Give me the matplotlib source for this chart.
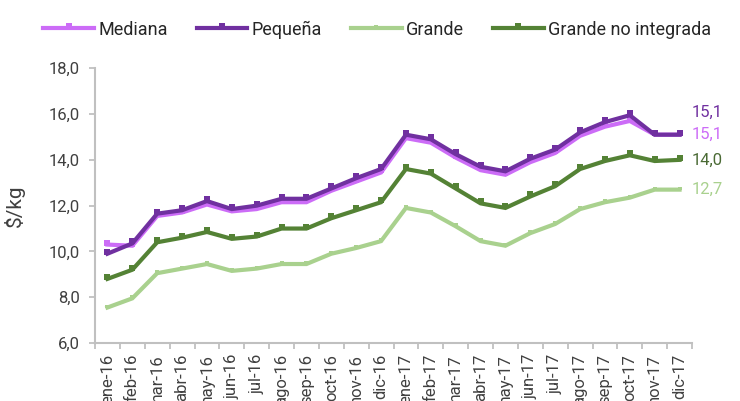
#!/usr/bin/env python3
# -*- coding: utf-8 -*-
"""
Precio mensual por tamaño de productor ($/kg), ene-16 a dic-17.
"""

import matplotlib
matplotlib.use('Agg')
import matplotlib.pyplot as plt
import numpy as np
from matplotlib.path import Path

months = ['ene-16', 'feb-16', 'mar-16', 'abr-16', 'may-16', 'jun-16',
          'jul-16', 'ago-16', 'sep-16', 'oct-16', 'nov-16', 'dic-16',
          'ene-17', 'feb-17', 'mar-17', 'abr-17', 'may-17', 'jun-17',
          'jul-17', 'ago-17', 'sep-17', 'oct-17', 'nov-17', 'dic-17']

mediana = [10.3, 10.25, 11.55, 11.7, 12.05, 11.75, 11.85, 12.15, 12.15,
           12.65, 13.05, 13.45, 14.95, 14.75, 14.1, 13.55, 13.35, 13.9,
           14.3, 15.05, 15.45, 15.7, 15.1, 15.1]
pequena = [9.9, 10.35, 11.65, 11.8, 12.2, 11.85, 12.0, 12.3, 12.3,
           12.75, 13.2, 13.6, 15.1, 14.9, 14.25, 13.7, 13.5, 14.05,
           14.45, 15.2, 15.65, 15.95, 15.1, 15.1]
grande = [7.55, 7.95, 9.05, 9.25, 9.45, 9.15, 9.25, 9.45, 9.45,
          9.9, 10.15, 10.45, 11.9, 11.7, 11.1, 10.45, 10.25, 10.8,
          11.2, 11.85, 12.15, 12.35, 12.7, 12.7]
grande_no_integrada = [8.8, 9.2, 10.4, 10.6, 10.85, 10.55, 10.65, 11.0, 11.0,
                       11.45, 11.8, 12.15, 13.6, 13.4, 12.75, 12.1, 11.9, 12.4,
                       12.85, 13.6, 13.95, 14.2, 13.95, 14.0]

series_names = ['Mediana', 'Pequeña', 'Grande', 'Grande no integrada']

plt.rcParams['font.family'] = ['Roboto', 'DejaVu Sans']

# square marker sitting slightly above the data point (like the original)
raised_square = Path([(-0.5, -0.1), (0.5, -0.1), (0.5, 0.9), (-0.5, 0.9),
                      (-0.5, -0.1)], closed=True)

styles = [
    {'color': '#cc6cf7', 'ms': 7.5, 'label_color': '#cc6cf7', 'dy': 0},
    {'color': '#7030a0', 'ms': 7.5, 'label_color': '#7030a0', 'dy': 16},
    {'color': '#a9d18e', 'ms': 4.0, 'label_color': '#a9d18e', 'dy': 0},
    {'color': '#548235', 'ms': 7.5, 'label_color': '#4a6a34', 'dy': 0},
]

figure = plt.figure(figsize=(7.40, 4.01), dpi=100)
ax = figure.add_axes([95 / 740, 1 - 343 / 401, 597 / 740, (343 - 68.3) / 401])

x = np.arange(len(months))
data = [mediana, pequena, grande, grande_no_integrada]
for name, values, style in zip(series_names, data, styles):
    ax.plot(x, values, color=style['color'], linewidth=3.0,
            marker=raised_square, markersize=style['ms'],
            markeredgewidth=0, markerfacecolor=style['color'],
            solid_joinstyle='miter', label=name)
    last = values[-1]
    ax.annotate(f'{last:.1f}'.replace('.', ','), xy=(len(months) - 0.5, last),
                xytext=(0, style['dy']), textcoords='offset points',
                ha='left', va='center', fontsize=12,
                color=style['label_color'])

ax.set_xlim(-0.5, len(months) - 0.5)
ax.set_ylim(6, 18)
ax.set_yticks(np.arange(6, 18.1, 2))
ax.set_yticklabels([f'{v:.1f}'.replace('.', ',') for v in np.arange(6, 18.1, 2)])
ax.set_xticks(x)
ax.set_xticklabels(months, rotation=90)
ax.set_xticks(np.arange(-0.5, len(months), 1), minor=True)

ax.tick_params(axis='x', which='major', length=0, pad=8, labelsize=12,
               labelcolor='#404040')
ax.tick_params(axis='x', which='minor', length=4, width=1.3, color='#c0c0c0')
ax.tick_params(axis='y', length=4, width=1.3, color='#c0c0c0', pad=7,
               labelsize=12, labelcolor='#404040')

for side in ['top', 'right']:
    ax.spines[side].set_visible(False)
for side in ['left', 'bottom']:
    ax.spines[side].set_color('#c0c0c0')
    ax.spines[side].set_linewidth(1.5)

ax.set_ylabel('$/kg', fontsize=15, color='#404040')
ax.yaxis.set_label_coords(-0.117, 0.5)

figure.legend(loc='center', bbox_to_anchor=(0.51, 0.926), ncol=4,
              frameon=False, fontsize=13, handlelength=2.8,
              handletextpad=0.25, columnspacing=1.6, labelcolor='#262626')

figure.savefig('out.png', dpi=100)
plt.close(figure)
